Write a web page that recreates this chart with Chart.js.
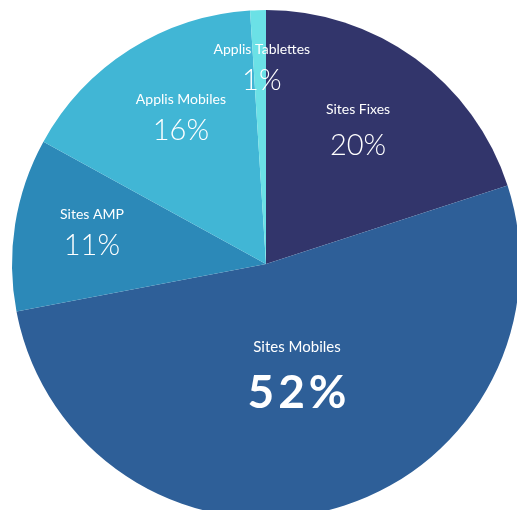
<!DOCTYPE html>
<html>
<head>
<meta charset="utf-8">
<script src="https://cdn.jsdelivr.net/npm/chart.js@4"></script>
<style>
  html, body { margin: 0; padding: 0; background: #fff; overflow: hidden; }
  #wrap { position: absolute; left: 0; top: 0; width: 517px; height: 510px; overflow: hidden; }
  canvas { position: absolute; left: 0; top: 0; }
</style>
</head>
<body>
<div id="wrap"><canvas id="pieChart" width="532" height="528"></canvas></div>
<script>
// Pie chart - repartition des pages vues
const labels = ["Sites Fixes", "Sites Mobiles", "Sites AMP", "Applis Mobiles", "Applis Tablettes"];
const values = [20, 52, 11, 16, 1];
const colors = ["#32356b", "#2e5f98", "#2c89b8", "#41b6d5", "#6be1e6"];

// label placement: fraction of radius and a small angle nudge (degrees)
const labelRadius = [0.648, 0.435, 0.698, 0.674, 0.785];
const labelNudge = [-2, -1.9, 1.9, 2.6, 0.6];
const labelGap = [18.5, 23, 15.5, 15.5, 15.5];

const sliceLabels = {
  id: "sliceLabels",
  afterDatasetsDraw(chart) {
    const ctx = chart.ctx;
    const meta = chart.getDatasetMeta(0);
    meta.data.forEach(function (arc, i) {
      const mid = (arc.startAngle + arc.endAngle) / 2 + labelNudge[i] * Math.PI / 180;
      const r = arc.outerRadius * labelRadius[i];
      const x = arc.x + Math.cos(mid) * r;
      const y = arc.y + Math.sin(mid) * r;
      const big = i === 1;
      ctx.save();
      ctx.fillStyle = "#fff";
      ctx.textAlign = "center";
      ctx.textBaseline = "middle";
      ctx.font = big ? "400 15px Lato" : "400 14px Lato";
      ctx.fillText(labels[i], x, y - labelGap[i]);
      if (big) {
        ctx.letterSpacing = "4px";
        ctx.font = "bold 46px Lato";
        ctx.fillText(values[i] + "%", x + 2, y + labelGap[i]);
      } else {
        ctx.font = "300 29px Lato";
        ctx.fillText(values[i] + "%", x, y + labelGap[i]);
      }
      ctx.restore();
    });
  },
};

new Chart(document.getElementById("pieChart"), {
  type: "pie",
  data: {
    labels: labels,
    datasets: [
      {
        data: values,
        backgroundColor: colors,
        borderWidth: 0,
      },
    ],
  },
  options: {
    responsive: false,
    animation: false,
    layout: { padding: 10 },
    plugins: {
      legend: { display: false },
      tooltip: { enabled: false },
    },
  },
  plugins: [sliceLabels],
});
</script>
</body>
</html>
